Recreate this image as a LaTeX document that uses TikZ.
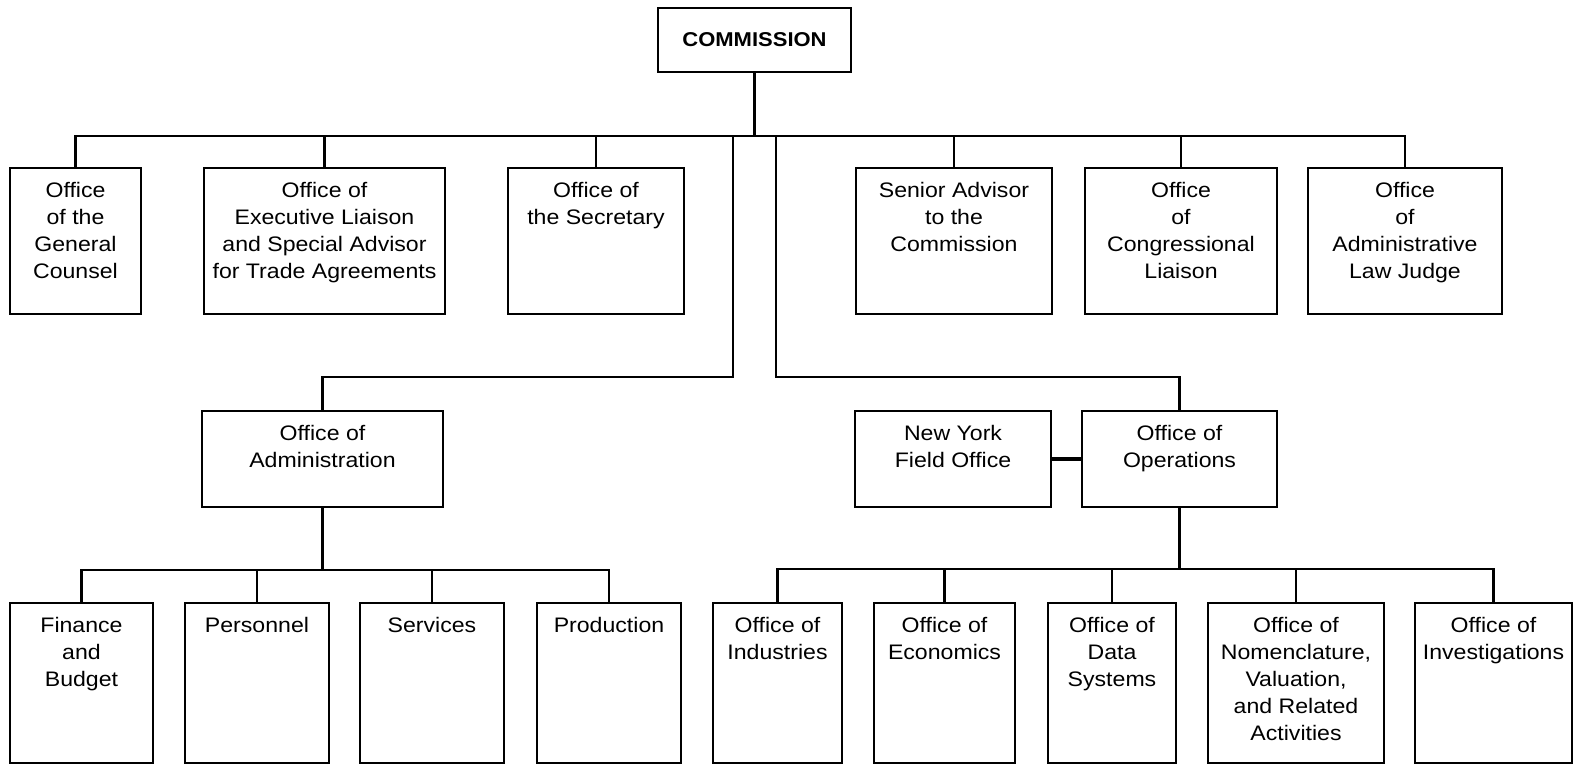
\documentclass[tikz,border=0pt]{standalone}
\usepackage{fontspec}
\setmainfont[FakeStretch=1.1]{Liberation Sans}
\begin{document}
\begin{tikzpicture}[x=1pt,y=-1pt,
  box/.style={draw, line width=2.6pt, rectangle, inner sep=0pt, outer sep=0pt},
  txt/.style={font=\fontsize{21}{27}\selectfont, align=center, inner sep=0pt, anchor=north},
  conn/.style={line width=2.2pt, line cap=rect},
  link/.style={line width=4pt}]
\useasboundingbox (0,0) rectangle (1574,765);
\newcommand\obox[6]{%
  \node[box, anchor=north west, minimum width={(#4-#2)*1pt}, minimum height={(#5-#3)*1pt}] (#1) at (#2,#3) {};
  \node[txt] (#1-t) at ([yshift=-14pt]#1.north) {#6};}
% commission
\node[box, minimum width=193pt, minimum height=64pt, font=\fontsize{20}{24}\selectfont\bfseries] (com) at (754.5,40) {COMMISSION};
% top row
\obox{gc}{10}{168}{141}{314}{Office\\of the\\General\\Counsel}
\obox{el}{204}{168}{445}{314}{Office of\\Executive Liaison\\and Special Advisor\\for Trade Agreements}
\obox{sec}{508}{168}{684}{314}{Office of\\the Secretary}
\obox{sa}{856}{168}{1052}{314}{Senior Advisor\\to the\\Commission}
\obox{cl}{1085}{168}{1277}{314}{Office\\of\\Congressional\\Liaison}
\obox{alj}{1308}{168}{1502}{314}{Office\\of\\Administrative\\Law Judge}
% middle row
\obox{adm}{202}{411}{443}{507}{Office of\\Administration}
\obox{ny}{855}{411}{1051}{507}{New York\\Field Office}
\obox{ops}{1082}{411}{1277}{507}{Office of\\Operations}
% bottom row
\obox{fb}{10}{603}{153}{763}{Finance\\and\\Budget}
\obox{per}{185}{603}{329}{763}{Personnel}
\obox{srv}{360}{603}{504}{763}{Services}
\obox{prod}{537}{603}{681}{763}{Production}
\obox{ind}{713}{603}{842}{763}{Office of\\Industries}
\obox{eco}{874}{603}{1015}{763}{Office of\\Economics}
\obox{ds}{1048}{603}{1176}{763}{Office of\\Data\\Systems}
\obox{nom}{1208}{603}{1384}{763}{Office of\\Nomenclature,\\Valuation,\\and Related\\Activities}
\obox{inv}{1415}{603}{1572}{763}{Office of\\Investigations}
% bus coordinates
\coordinate (topbus) at (0,136);
\coordinate (midbus) at (0,377);
\coordinate (admbus) at (0,570);
\coordinate (opsbus) at (0,569);
\coordinate (dl) at (733,136);
\coordinate (dr) at (776,136);
% connectors
\draw[conn] (com.south) -- (com.south |- topbus);
\draw[conn] (gc.north) |- (alj.north |- topbus) -- (alj.north);
\foreach \n in {el,sec,sa,cl}{\draw[conn] (\n.north) -- (\n.north |- topbus);}
\draw[conn] (dl) |- (adm.north |- midbus) -- (adm.north);
\draw[conn] (dr) |- (ops.north |- midbus) -- (ops.north);
\draw[link] (ny.east) -- (ops.west);
\draw[conn] (adm.south) -- (adm.south |- admbus);
\draw[conn] (fb.north) |- (prod.north |- admbus) -- (prod.north);
\foreach \n in {per,srv}{\draw[conn] (\n.north) -- (\n.north |- admbus);}
\draw[conn] (ops.south) -- (ops.south |- opsbus);
\draw[conn] (ind.north) |- (inv.north |- opsbus) -- (inv.north);
\foreach \n in {eco,ds,nom}{\draw[conn] (\n.north) -- (\n.north |- opsbus);}
\end{tikzpicture}
\end{document}
